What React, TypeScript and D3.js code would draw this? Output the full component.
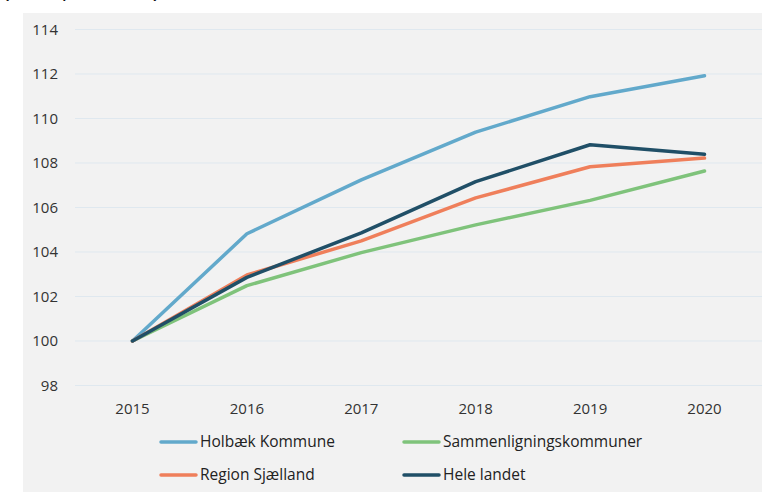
import React from "react";
import * as d3 from "d3";

const years = [2015, 2016, 2017, 2018, 2019, 2020];
const holbaek = [100, 104.82, 107.24, 109.39, 110.98, 111.92];
const sammen = [100, 102.49, 103.97, 105.22, 106.32, 107.64];
const region = [100, 102.97, 104.5, 106.43, 107.83, 108.22];
const hele = [100, 102.86, 104.86, 107.16, 108.82, 108.39];
const yTicks = [98, 100, 102, 104, 106, 108, 110, 112, 114];

const series = [
  { name: "Holbæk Kommune", values: holbaek, color: "#62a9cb" },
  { name: "Sammenligningskommuner", values: sammen, color: "#7fc37b" },
  { name: "Region Sjælland", values: region, color: "#ef7f5b" },
  { name: "Hele landet", values: hele, color: "#204f67" },
];
const drawOrder = [0, 1, 2, 3];

export default function App() {
  const W = 762, H = 492;
  const x = d3.scaleLinear().domain([2015, 2020]).range([132.5, 704.5]);
  const y = d3.scaleLinear().domain([98, 114]).range([385.5, 29.5]);
  const line = d3.line<number>().x((_, i) => x(years[i])).y((v) => y(v));
  const font = "'Open Sans', 'Noto Sans', sans-serif";
  const legendPos = [
    { sx: 161, tx: 200, ty: 442 },
    { sx: 404, tx: 443, ty: 442 },
    { sx: 161, tx: 200, ty: 475 },
    { sx: 404, tx: 443, ty: 475 },
  ];
  return (
    <svg width={W} height={H} style={{ position: "absolute", left: 0, top: 0 }} fontFamily={font}>
      <rect x={0} y={0} width={W} height={H} fill="#ffffff" />
      <text x={4} y={-1} fontSize={16} fontWeight={700} fill="#111">(Indeks, 2015 = 100)</text>
      <rect x={23} y={13} width={W - 23} height={H - 13} fill="#f2f2f2" />
      {yTicks.map((t) => (
        <g key={t}>
          <line x1={75} x2={762} y1={y(t)} y2={y(t)} stroke="#dfe8ef" strokeWidth={1} />
          <text x={58} y={y(t)} dy="0.35em" textAnchor="end" fontSize={15} fill="#333">{t}</text>
        </g>
      ))}
      {years.map((yr) => (
        <text key={yr} x={x(yr)} y={414} textAnchor="middle" fontSize={15} fill="#333">{yr}</text>
      ))}
      {drawOrder.map((i) => (
        <path key={i} d={line(series[i].values) || ""} fill="none" stroke={series[i].color}
          strokeWidth={3.5} strokeLinecap="round" strokeLinejoin="round" />
      ))}
      {series.map((s, i) => (
        <g key={s.name}>
          <line x1={legendPos[i].sx} x2={legendPos[i].sx + 35} y1={legendPos[i].ty} y2={legendPos[i].ty}
            stroke={s.color} strokeWidth={3.5} strokeLinecap="round" />
          <text x={legendPos[i].tx} y={legendPos[i].ty} dy="0.35em" fontSize={15.5} fill="#222">{s.name}</text>
        </g>
      ))}
    </svg>
  );
}
